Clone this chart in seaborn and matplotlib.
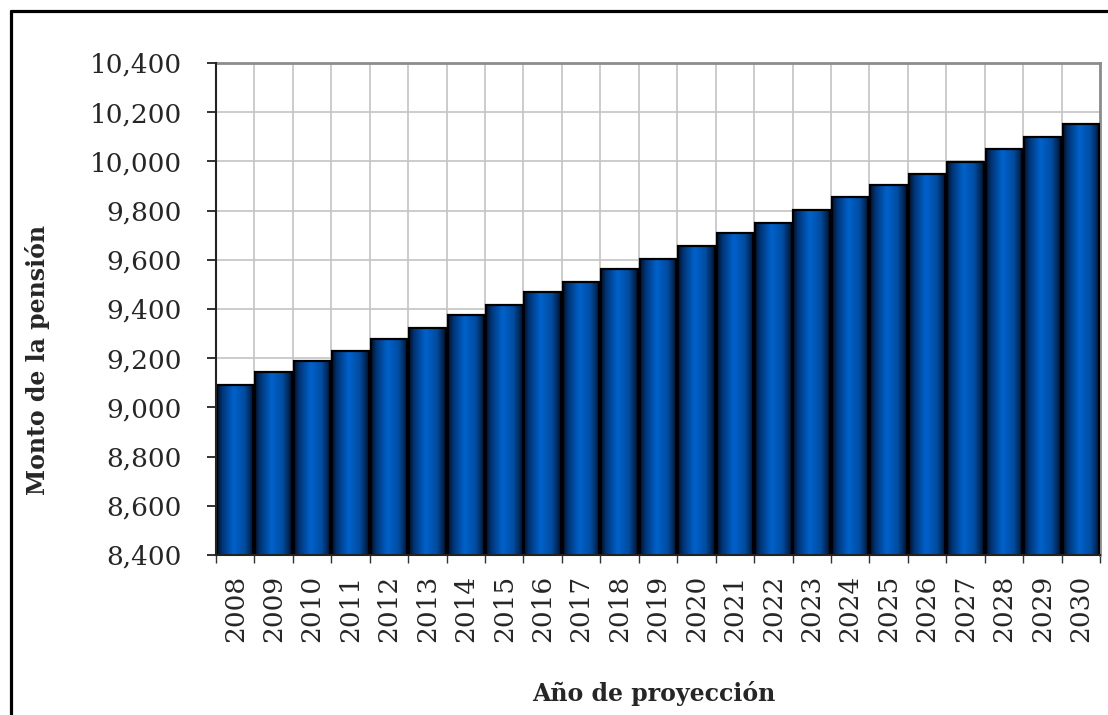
import numpy as np
import pandas as pd
import matplotlib
matplotlib.use("Agg")
import matplotlib.pyplot as plt
from matplotlib.colors import LinearSegmentedColormap
from matplotlib.ticker import FuncFormatter, FixedLocator
from matplotlib.lines import Line2D
import seaborn as sns

years = [str(y) for y in range(2008, 2031)]
pension = [9092, 9144, 9187, 9229, 9279, 9324, 9374, 9418, 9468, 9511,
           9563, 9605, 9657, 9709, 9751, 9802, 9854, 9904, 9947, 9999,
           10050, 10100, 10152]
y_ticks = list(range(8400, 10401, 200))

df = pd.DataFrame({"Año": years, "Monto": pension})

sns.set_style("white")
plt.rcParams["font.family"] = ["DejaVu Serif"]

fig = plt.figure(figsize=(11.08, 7.15), dpi=100)
ax = fig.add_axes([216 / 1108, 1 - 555 / 715, (1100 - 216) / 1108, (555 - 63) / 715])

sns.barplot(data=df, x="Año", y="Monto", color="#0058c0", width=0.95,
            edgecolor="black", linewidth=1.6, ax=ax)

ymin, ymax = y_ticks[0], y_ticks[-1]

# shaded look of the bars: dark edges, bright centre
shade = LinearSegmentedColormap.from_list(
    "shade", [(0.0, "#00122e"), (0.15, "#003577"), (0.45, "#0062cc"),
              (0.75, "#004c9f"), (1.0, "#00122e")])
grad = np.linspace(0, 1, 256).reshape(1, -1)
for p in ax.patches:
    x0, w = p.get_x(), p.get_width()
    top = p.get_y() + p.get_height()
    im = ax.imshow(grad, extent=[x0, x0 + w, ymin, top], aspect="auto",
                   cmap=shade, zorder=2.5, interpolation="bilinear")
    im.set_clip_path(p)
    p.set_facecolor("none")
    p.set_zorder(3)

ax.set_xlim(-0.5, len(years) - 0.5)
ax.set_ylim(ymin, ymax)
ax.set_yticks(y_ticks)
ax.yaxis.set_major_formatter(FuncFormatter(lambda v, _: f"{int(v):,}"))

# grid at category boundaries and y ticks
ax.xaxis.set_minor_locator(FixedLocator(np.arange(-0.5, len(years), 1.0)))
ax.set_axisbelow(True)
ax.grid(True, axis="y", which="major", color="#c4c4c4", linewidth=1.2)
ax.grid(True, axis="x", which="minor", color="#c4c4c4", linewidth=1.2)
ax.grid(False, axis="x", which="major")

ax.tick_params(axis="x", which="major", length=0, pad=14, labelsize=19,
               labelrotation=90)
ax.tick_params(axis="x", which="minor", length=6, width=1, color="#333333",
               direction="out")
ax.tick_params(axis="y", which="major", length=6.5, width=1.3, color="#222222",
               direction="out", pad=18, labelsize=19)
ax.tick_params(left=True, bottom=True, which="both")

for side in ["top", "right"]:
    ax.spines[side].set_color("#8c8c8c")
    ax.spines[side].set_linewidth(2)
for side in ["left", "bottom"]:
    ax.spines[side].set_color("#222222")
    ax.spines[side].set_linewidth(1.5)
    ax.spines[side].set_zorder(4)

ax.set_xlabel("")
ax.set_ylabel("")
fig.text(654 / 1108, 1 - 694 / 715, "Año de proyección", ha="center",
         va="center", fontsize=17, fontweight="bold")
fig.text(38 / 1108, 1 - 360 / 715, "Monto de la pensión", ha="center",
         va="center", rotation=90, fontsize=17, fontweight="bold")

# outer frame (left and top edges visible)
fig.add_artist(Line2D([10.5 / 1108, 10.5 / 1108], [0, 1 - 10.5 / 715],
                      transform=fig.transFigure, color="black", linewidth=2.3))
fig.add_artist(Line2D([10.5 / 1108, 1], [1 - 10.5 / 715, 1 - 10.5 / 715],
                      transform=fig.transFigure, color="black", linewidth=2.3))

fig.savefig("out.png", dpi=100)
plt.close(fig)
